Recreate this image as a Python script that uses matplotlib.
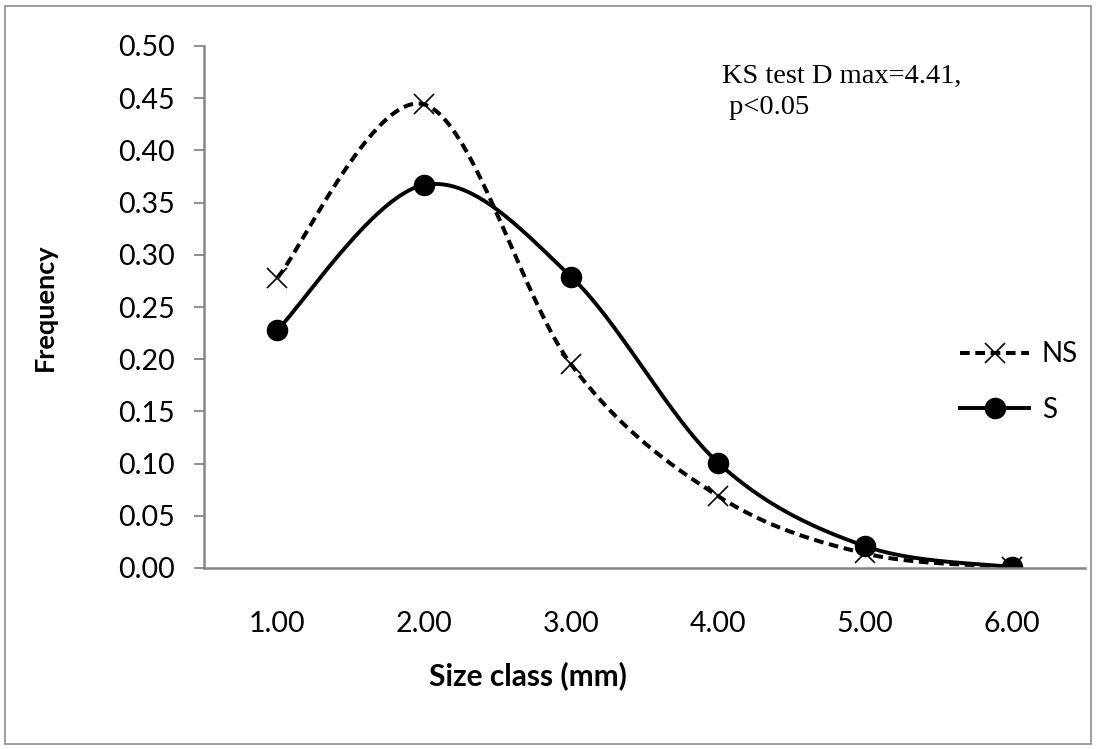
import numpy as np
import matplotlib
matplotlib.use("Agg")
import matplotlib.pyplot as plt
from matplotlib.patches import Rectangle
from matplotlib.lines import Line2D

size_class = [1.0, 2.0, 3.0, 4.0, 5.0, 6.0]
x_labels = ["1.00", "2.00", "3.00", "4.00", "5.00", "6.00"]
ns_freq = [0.278, 0.444, 0.195, 0.069, 0.014, 0.001]
s_freq = [0.228, 0.367, 0.279, 0.101, 0.021, 0.001]
y_ticks = [0.00, 0.05, 0.10, 0.15, 0.20, 0.25, 0.30, 0.35, 0.40, 0.45, 0.50]


def smooth(xs, ys, n=60):
    """Excel-like smoothed line (Catmull-Rom Bezier) through the data points."""
    p = np.column_stack([xs, ys]).astype(float)
    ext = np.vstack([p[0], p, p[-1]])
    out = []
    for i in range(1, len(ext) - 2):
        p0, p1, p2, p3 = ext[i - 1], ext[i], ext[i + 1], ext[i + 2]
        c1 = p1 + (p2 - p0) / 6.0
        c2 = p2 - (p3 - p1) / 6.0
        t = np.linspace(0, 1, n)[:, None]
        seg = ((1 - t) ** 3) * p1 + 3 * ((1 - t) ** 2) * t * c1 + 3 * (1 - t) * t ** 2 * c2 + t ** 3 * p2
        out.append(seg if i == 1 else seg[1:])
    seg = np.vstack(out)
    return seg[:, 0], seg[:, 1]


W, H = 1097, 749
fig = plt.figure(figsize=(W / 100, H / 100), dpi=100)
fig.patch.set_facecolor("white")

# outer chart border
fig.patches.append(Rectangle((5 / W, 5 / H), (W - 11) / W, (H - 11) / H,
                             transform=fig.transFigure, fill=False,
                             edgecolor="#8c8c8c", linewidth=1.2))

left, right, top, bottom = 204, 1085, 46, 568
aw, ah = right - left, bottom - top
ax = fig.add_axes([left / W, 1 - bottom / H, aw / W, ah / H])

x = np.arange(1, len(size_class) + 1)

ns_style = (0, (2.4, 1.4))
xs, ys = smooth(x, ns_freq)
ax.plot(xs, ys, color="black", lw=2.9, linestyle=ns_style, solid_capstyle="butt")
ax.plot(x, ns_freq, linestyle="none", marker="x", markersize=14, markeredgewidth=1.2,
        color="black")

xs, ys = smooth(x, s_freq)
ax.plot(xs, ys, color="black", lw=2.8)
ax.plot(x, s_freq, linestyle="none", marker="o", markersize=14.5, color="black")

ax.set_xlim(0.5, len(size_class) + 0.5)
ax.set_ylim(0, 0.5)
ax.set_xticks(x)
ax.set_xticklabels(x_labels)
ax.set_yticks(y_ticks)
ax.set_yticklabels([f"{v:.2f}" for v in y_ticks])

for s in ["top", "right"]:
    ax.spines[s].set_visible(False)
for s in ["left", "bottom"]:
    ax.spines[s].set_color("#868686")
    ax.spines[s].set_linewidth(1.8)

ax.tick_params(axis="y", direction="out", length=7, width=1.3, color="#868686",
               labelsize=20.5, pad=14)
ax.tick_params(axis="x", length=0, labelsize=20.5, pad=31)
for lab in ax.get_xticklabels() + ax.get_yticklabels():
    lab.set_family("Lato")

ax.set_xlabel("Size class (mm)", fontsize=21.5, fontweight="bold", family="Lato",
              va="center", ha="center")
ax.xaxis.set_label_coords((528 - left) / aw, (bottom - 676) / ah)
ax.set_ylabel("Frequency", fontsize=19.5, fontweight="bold", family="Lato",
              va="center", ha="center")
ax.yaxis.set_label_coords((45 - left) / aw, 0.5)

ax.text(722 / W, 1 - 92 / H, "KS test D max=4.41,\n p<0.05", transform=fig.transFigure,
        fontsize=20.5, family="Liberation Serif", va="center", ha="left", linespacing=1.3)

# legend
handles = [
    Line2D([], [], color="black", lw=2.9, linestyle=ns_style, marker="x",
           markersize=14, markeredgewidth=1.2),
    Line2D([], [], color="black", lw=2.8, marker="o", markersize=14.5),
]
fig.legend(handles, ["NS", "S"], loc="center left",
           bbox_to_anchor=(960 / W, 1 - 382 / H), frameon=False,
           prop={"family": "Lato", "size": 20}, handlelength=2.5,
           handletextpad=0.45, labelspacing=1.05, borderpad=0, borderaxespad=0)

fig.savefig("out.png", dpi=100, facecolor="white")
